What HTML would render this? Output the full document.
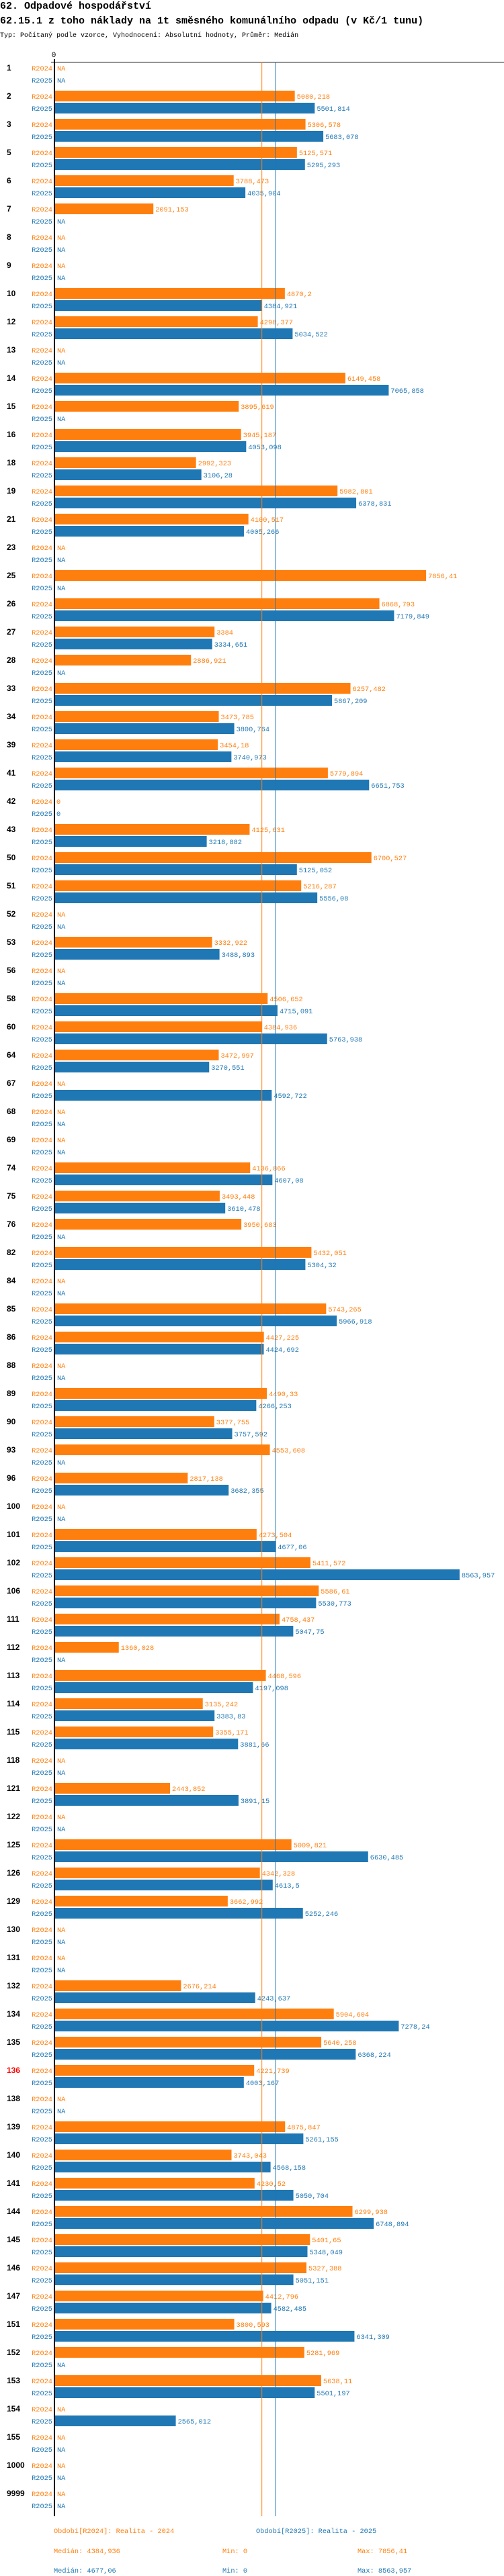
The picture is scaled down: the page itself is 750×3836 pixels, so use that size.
<!DOCTYPE html>
<html><head><meta charset="utf-8">
<style>
html,body{margin:0;padding:0;background:#fff;}
body{width:750px;height:3836px;overflow:hidden;}
svg{display:block;}
.t{font-family:"Liberation Mono",monospace;}
</style></head>
<body>
<svg id="chart" width="750" height="3836" xmlns="http://www.w3.org/2000/svg">
<text class="t" x="0" y="13" font-size="15" font-weight="bold" fill="#000">62. Odpadové hospodářství</text>
<text class="t" x="0" y="35" font-size="15" font-weight="bold" fill="#000">62.15.1 z toho náklady na 1t směsného komunálního odpadu (v Kč/1 tunu)</text>
<text class="t" x="0" y="55" font-size="10" fill="#000">Typ: Počítaný podle vzorce, Vyhodnocení: Absolutní hodnoty, Průměr: Medián</text>
<g id="plot"></g>
</svg>
<script>
const categories = ["1","2","3","5","6","7","8","9","10","12","13","14","15","16","18","19","21","23","25","26","27","28","33","34","39","41","42","43","50","51","52","53","56","58","60","64","67","68","69","74","75","76","82","84","85","86","88","89","90","93","96","100","101","102","106","111","112","113","114","115","118","121","122","125","126","129","130","131","132","134","135","136","138","139","140","141","144","145","146","147","151","152","153","154","155","1000","9999"];
const values2024 = [null,5080.218,5306.578,5125.571,3788.473,2091.153,null,null,4870.2,4298.377,null,6149.458,3895.619,3945.187,2992.323,5982.801,4100.517,null,7856.41,6868.793,3384,2886.921,6257.482,3473.785,3454.18,5779.894,0,4125.631,6700.527,5216.287,null,3332.922,null,4506.652,4384.936,3472.997,null,null,null,4136.866,3493.448,3950.683,5432.051,null,5743.265,4427.225,null,4490.33,3377.755,4553.608,2817.138,null,4273.504,5411.572,5586.61,4758.437,1360.028,4468.596,3135.242,3355.171,null,2443.852,null,5009.821,4342.328,3662.992,null,null,2676.214,5904.604,5640.258,4221.739,null,4875.847,3743.043,4230.52,6299.938,5401.65,5327.388,4412.796,3800.593,5281.969,5638.11,null,null,null,null];
const values2025 = [null,5501.814,5683.078,5295.293,4035.904,null,null,null,4384.921,5034.522,null,7065.858,null,4053.098,3106.28,6378.831,4005.266,null,null,7179.849,3334.651,null,5867.209,3800.764,3740.973,6651.753,0,3218.882,5125.052,5556.08,null,3488.893,null,4715.091,5763.938,3270.551,4592.722,null,null,4607.08,3610.478,null,5304.32,null,5966.918,4424.692,null,4266.253,3757.592,null,3682.355,null,4677.06,8563.957,5530.773,5047.75,null,4197.098,3383.83,3881.66,null,3891.15,null,6630.485,4613.5,5252.246,null,null,4243.637,7278.24,6368.224,4003.167,null,5261.155,4568.158,5050.704,6748.894,5348.049,5051.151,4582.485,6341.309,null,5501.197,2565.012,null,null,null];
const seriesNames = ["R2024","R2025"];
const medians = [4384.936,4677.06];
const mins = [0,0];
const maxs = [7856.41,8563.957];
const highlighted = ["136"];

const NS="http://www.w3.org/2000/svg";
const plot=document.getElementById('plot');
const X0=81, K=0.0704, Y0=101, PITCH=42;
const colors=["#ff7f0e","#1f77b4"];
const xScale=v=>X0+v*K;
const yRow=i=>Y0+i*PITCH;
function fmt(v){return String(v).replace('.',',');}
function mk(tag,attrs,txt){const e=document.createElementNS(NS,tag);for(const k in attrs)e.setAttribute(k,attrs[k]);if(txt!==undefined)e.textContent=txt;plot.appendChild(e);return e;}
const bottom=yRow(categories.length-1)+34;
// zero tick
let e=mk('text',{x:80,y:85,'font-size':11,'text-anchor':'middle','class':'t',fill:'#000'},'0');


e=mk('line',{x1:76,y1:92.5,x2:750,y2:92.5,stroke:'#000','stroke-width':1});


const sets=[values2024,values2025];
categories.forEach((c,i)=>{
  const y=yRow(i);
  const lab=mk('text',{x:10,y:y+4,'font-size':12,'font-weight':'bold','font-family':'Liberation Sans, sans-serif',fill:highlighted.includes(c)?'#ff0000':'#000'},c);
  
  
  sets.forEach((vals,s)=>{
    const cy=y+s*18;
    const sl=mk('text',{x:78,y:cy+4,'font-size':10.3,'text-anchor':'end','class':'t',fill:colors[s]},seriesNames[s]);
    
    
    const v=vals[i];
    if(v===null){
      const na=mk('text',{x:85,y:cy+4,'font-size':10.3,'class':'t',fill:colors[s]},'NA');
      
      
    } else {
      const x2=xScale(v);
      if(v>0){
        const r=mk('rect',{x:X0+1,y:cy-8,width:Math.max(0,x2-X0-1),height:16,fill:colors[s]});
        
        
      }
      const vl=mk('text',{x:Math.max(x2,X0)+3,y:cy+4,'font-size':10.3,'class':'t',fill:colors[s]},fmt(v));
      
      
    }
  });
});
medians.forEach((m,s)=>{
  const ml=mk('line',{x1:xScale(m),y1:92,x2:xScale(m),y2:bottom,stroke:colors[s],'stroke-width':1});
  
  
});
e=mk('line',{x1:81,y1:88,x2:81,y2:bottom,stroke:'#000','stroke-width':2});


// legend
const legY=bottom+21;
const legTexts=["Období[R2024]: Realita - 2024","Období[R2025]: Realita - 2025"];
[80,381].forEach((lx,s)=>{
  const l=mk('text',{x:lx,y:legY+4,'font-size':10.3,'class':'t',fill:colors[s]},legTexts[s]);
  
  
});
[0,1].forEach(s=>{
  const yy=legY+34+s*29;
  const a=mk('text',{x:80,y:yy,'font-size':10.3,'class':'t',fill:colors[s]},'Medián: '+fmt(medians[s]));
  
  
  const b=mk('text',{x:331,y:yy,'font-size':10.3,'class':'t',fill:colors[s]},'Min: '+fmt(mins[s]));
  
  
  const d=mk('text',{x:532,y:yy,'font-size':10.3,'class':'t',fill:colors[s]},'Max: '+fmt(maxs[s]));
  
  
});
</script>
</body></html>
